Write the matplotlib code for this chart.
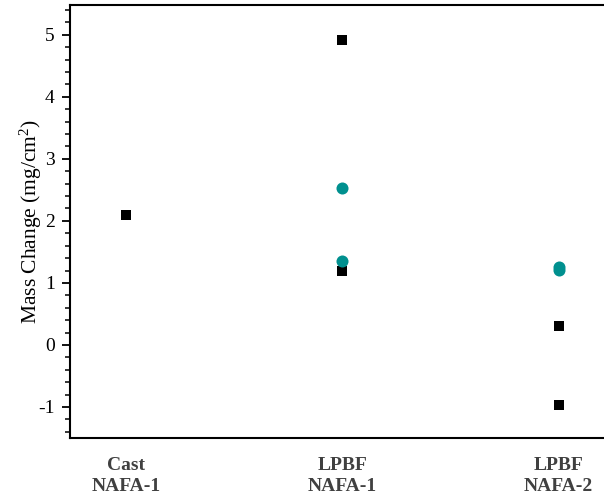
import matplotlib.pyplot as plt
from matplotlib.ticker import MultipleLocator

plt.rcParams['font.family'] = ['Liberation Serif', 'DejaVu Serif']
plt.rcParams['mathtext.fontset'] = 'custom'
plt.rcParams['mathtext.rm'] = 'Liberation Serif'
plt.rcParams['mathtext.it'] = 'Liberation Serif:italic'
plt.rcParams['mathtext.bf'] = 'Liberation Serif:bold'

categories = ["Cast\nNAFA-1", "LPBF\nNAFA-1", "LPBF\nNAFA-2"]

# black squares
sq_cat = [0, 1, 1, 2, 2]
sq_val = [2.10, 4.92, 1.20, 0.31, -0.97]

# teal circles
ci_cat = [1, 1, 2, 2]
ci_val = [2.53, 1.35, 1.25, 1.21]

fig = plt.figure(figsize=(6.04, 5.01), dpi=100)
ax = fig.add_axes([70 / 604, 63 / 501, 1 - 70 / 604, 433 / 501])

ax.scatter(sq_cat, sq_val, marker='s', s=60, color='black', zorder=3, linewidths=0)
ax.scatter(ci_cat, ci_val, marker='o', s=75, color='#00908f', zorder=3, linewidths=0)

ax.set_xlim(-0.26, 2.21)
ax.set_ylim(-1.5, 5.48)
ax.set_xticks(range(len(categories)))
ax.set_xticklabels(categories, fontsize=14, fontweight='bold', color='#404040', linespacing=1.25)
ax.tick_params(axis='x', length=0, pad=14)

ax.yaxis.set_major_locator(MultipleLocator(1))
ax.yaxis.set_minor_locator(MultipleLocator(0.2))
ax.tick_params(axis='y', which='major', direction='out', length=6, width=1.3, labelsize=14, pad=5)
ax.tick_params(axis='y', which='minor', direction='out', length=3.5, width=1.1)
ax.set_yticklabels([str(int(t)) for t in ax.get_yticks()])
ax.set_ylabel("Mass Change (mg/cm$^2$)", fontsize=15.5, labelpad=-4)

for side in ['left', 'top', 'bottom']:
    ax.spines[side].set_linewidth(1.5)
ax.spines['right'].set_visible(False)

fig.savefig("out.png", dpi=100)
